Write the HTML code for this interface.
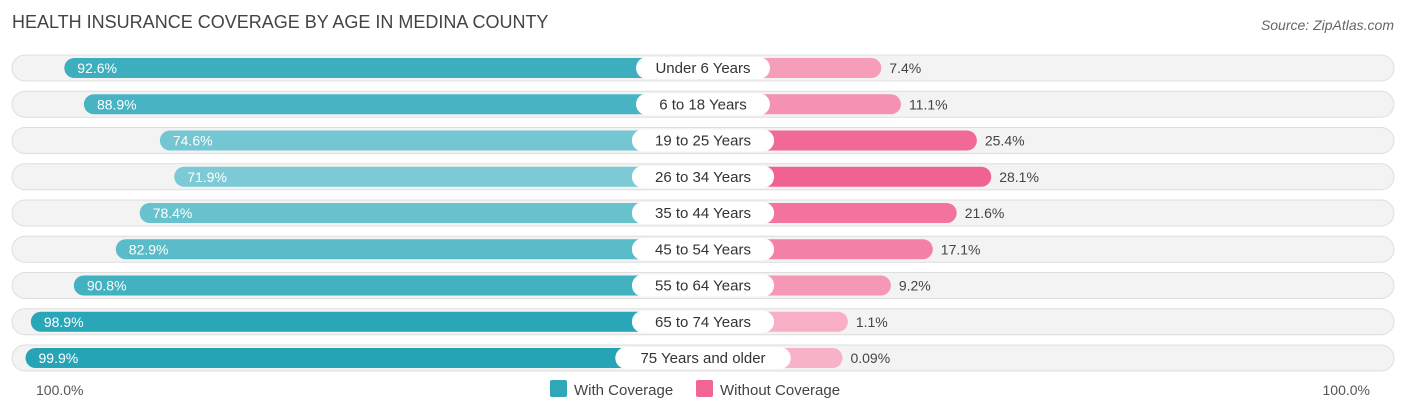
<!DOCTYPE html>
<html><head><meta charset="utf-8"><style>
body{margin:0;background:#fff;font-family:"Liberation Sans",Arial,sans-serif;}
svg text{font-family:"Liberation Sans",Arial,sans-serif;}
</style></head><body>
<svg id="chart" width="1406" height="414">
<text x="12" y="28" font-size="18" fill="#444">HEALTH INSURANCE COVERAGE BY AGE IN MEDINA COUNTY</text>
<text x="1394" y="30" font-size="14" fill="#666" font-style="italic" text-anchor="end">Source: ZipAtlas.com</text>
<g id="rows"></g>
<text x="36" y="395" font-size="14" fill="#555">100.0%</text>
<text x="1370" y="395" font-size="14" fill="#555" text-anchor="end">100.0%</text>
<rect x="550" y="380" width="17" height="17" rx="2" fill="#2ea8b9"/>
<text x="574" y="395" font-size="15" fill="#444">With Coverage</text>
<rect x="696" y="380" width="17" height="17" rx="2" fill="#f06594"/>
<text x="720" y="395" font-size="15" fill="#444">Without Coverage</text>
</svg>
<script>
const categories=["Under 6 Years","6 to 18 Years","19 to 25 Years","26 to 34 Years","35 to 44 Years","45 to 54 Years","55 to 64 Years","65 to 74 Years","75 Years and older"];
const withCoverage=[92.6,88.9,74.6,71.9,78.4,82.9,90.8,98.9,99.9];
const withoutCoverage=[7.4,11.1,25.4,28.1,21.6,17.1,9.2,1.1,0.09];
const withLabels=["92.6%","88.9%","74.6%","71.9%","78.4%","82.9%","90.8%","98.9%","99.9%"];
const withoutLabels=["7.4%","11.1%","25.4%","28.1%","21.6%","17.1%","9.2%","1.1%","0.09%"];
const NS="http://www.w3.org/2000/svg";
const g=document.getElementById('rows');
const center=700,leftZero=556,rightZero=842,s=5.31;
const xL=v=>leftZero-v*s, xR=v=>rightZero+v*s;
const rowY=i=>68+i*36.25;
function mk(t,a){const e=document.createElementNS(NS,t);for(const k in a)e.setAttribute(k,a[k]);g.appendChild(e);return e;}
function mix(c1,c2,t){return 'rgb('+c1.map((c,i)=>Math.round(c+(c2[i]-c)*t)).join(',')+')';}
categories.forEach((c,i)=>{
 const y=rowY(i);
 const tr=mk('rect',{x:12,y:y-13,width:1382,height:26,rx:13,fill:'#f3f3f3',stroke:'#dedede'});
 
 const tw=Math.min(1,Math.max(0,(withCoverage[i]-70)/30));
 const bl=mk('rect',{x:xL(withCoverage[i]),y:y-10,width:center-xL(withCoverage[i]),height:20,rx:10,fill:mix([130,205,215],[38,164,182],tw)});
 
 const tp=Math.min(1,withoutCoverage[i]/28);
 const br=mk('rect',{x:center,y:y-10,width:xR(withoutCoverage[i])-center,height:20,rx:10,fill:mix([248,178,200],[240,98,146],tp)});
 
 const lw=c.length*8.3+26;
 const pill=mk('rect',{x:center+3-lw/2,y:y-11,width:lw,height:22,rx:11,fill:'#fff'});
 
 const ct=mk('text',{x:center+3,y:y+5,'font-size':15,fill:'#333','text-anchor':'middle'});ct.textContent=c;
 
 const vl=mk('text',{x:xL(withCoverage[i])+13,y:y+5,'font-size':14,fill:'#fff'});vl.textContent=withLabels[i];
 
 const vr=mk('text',{x:xR(withoutCoverage[i])+8,y:y+5,'font-size':14,fill:'#444'});vr.textContent=withoutLabels[i];
 
});
</script>
</body></html>
